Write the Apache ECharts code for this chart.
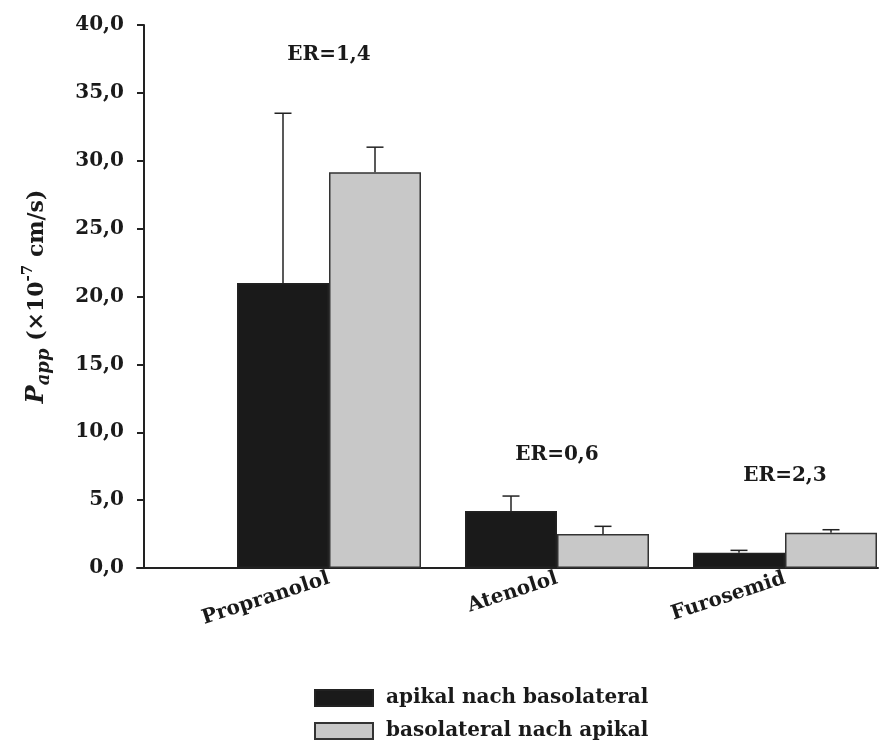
<!DOCTYPE html>
<html><head><meta charset="utf-8">
<script src="https://cdn.jsdelivr.net/npm/echarts@6/dist/echarts.min.js"></script>
<style>html,body{margin:0;padding:0;background:#fff}#c{width:887px;height:743px}</style>
</head><body><div id="c"></div>
<script>
const categories = ['Propranolol', 'Atenolol', 'Furosemid'];
const seriesNames = ['apikal nach basolateral', 'basolateral nach apikal'];
const apBl = [21.0, 4.2, 1.13];
const apBlErr = [33.5, 5.3, 1.3];
const blAp = [29.15, 2.5, 2.6];
const blApErr = [31.0, 3.07, 2.82];
const erLabels = ['ER=1,4', 'ER=0,6', 'ER=2,3'];
const erY = [37.8, 8.35, 6.8];
const yTicks = [0, 5, 10, 15, 20, 25, 30, 35, 40];

const FONT = 'DejaVu Serif';
const TXT = '#1a1a1a';
const chart = echarts.init(document.getElementById('c'));

function errSeries(name, vals, tops, dir) {
  return {
    type: 'custom', xAxisIndex: 1, yAxisIndex: 1, silent: true, z: 1,
    data: vals.map((v, i) => [i, v, tops[i]]),
    renderItem: function (params, api) {
      const base = api.coord([api.value(0), api.value(1)]);
      const top = api.coord([api.value(0), api.value(2)]);
      const bw = api.size([1, 0])[0] * 184 / 228 / 2;
      const x = base[0] + dir * bw / 2;
      const cap = 8.5;
      const st = { stroke: '#222', lineWidth: 1.5 };
      return { type: 'group', children: [
        { type: 'line', shape: { x1: x, y1: base[1], x2: x, y2: top[1] }, style: st },
        { type: 'line', shape: { x1: x - cap, y1: top[1], x2: x + cap, y2: top[1] }, style: st }
      ]};
    }
  };
}

const legendText = { fontFamily: FONT, fontWeight: 'bold', fontSize: 20, color: TXT, padding: [0, 0, 0, 8] };

chart.setOption({
  animation: false,
  backgroundColor: '#fff',
  textStyle: { fontFamily: FONT, color: TXT, fontWeight: 'bold' },
  grid: [
    { left: 137, right: 9, top: 25, bottom: 175, outerBoundsMode: 'none' },
    { left: 215, width: 684, top: 25, bottom: 175, outerBoundsMode: 'none' }
  ],
  xAxis: [
    { gridIndex: 0, type: 'value', min: 0, max: 1, axisLine: { show: true, lineStyle: { color: '#222', width: 2 } },
      axisTick: { show: false }, axisLabel: { show: false }, splitLine: { show: false } },
    { gridIndex: 1, type: 'category', data: categories, axisLine: { show: false }, axisTick: { show: false },
      axisLabel: { rotate: 18, margin: 10, fontFamily: FONT, fontWeight: 'bold', fontSize: 20, color: TXT } }
  ],
  yAxis: [
    { gridIndex: 0, type: 'value', min: 0, max: 40, interval: 5, offset: -7,
      axisLine: { show: true, onZero: false, lineStyle: { color: '#222', width: 2 } },
      axisTick: { show: true, inside: false, length: 7, lineStyle: { color: '#222', width: 2 } },
      splitLine: { show: false },
      axisLabel: { margin: 20, fontFamily: FONT, fontWeight: 'bold', fontSize: 20, color: TXT,
        formatter: v => v.toFixed(1).replace('.', ',') },
      name: '{i|P}{sub|app}{n| (×10}{sup|-7}{n| cm/s)}',
      nameLocation: 'middle', nameGap: 91,
      nameTextStyle: { rich: {
        i: { fontFamily: FONT, fontStyle: 'italic', fontWeight: 'bold', fontSize: 24, color: TXT, lineHeight: 32 },
        sub: { fontFamily: FONT, fontStyle: 'italic', fontWeight: 'bold', fontSize: 18, color: TXT, verticalAlign: 'bottom', lineHeight: 32 },
        n: { fontFamily: FONT, fontWeight: 'bold', fontSize: 22, color: TXT, lineHeight: 32 },
        sup: { fontFamily: FONT, fontWeight: 'bold', fontSize: 15, color: TXT, verticalAlign: 'top', lineHeight: 32 }
      } }
    },
    { gridIndex: 1, type: 'value', min: 0, max: 40, show: false }
  ],
  legend: [
    { left: 314, top: 688, padding: 0, itemWidth: 58, itemHeight: 16, icon: 'rect', data: [seriesNames[0]], textStyle: legendText },
    { left: 314, top: 721, padding: 0, itemWidth: 58, itemHeight: 16, icon: 'rect', data: [seriesNames[1]], textStyle: legendText }
  ],
  series: [
    { name: seriesNames[0], type: 'bar', xAxisIndex: 1, yAxisIndex: 1, data: apBl, barWidth: '40.35%', barGap: '0%', z: 2,
      itemStyle: { color: '#1a1a1a', borderColor: '#222', borderWidth: 1.5 } },
    { name: seriesNames[1], type: 'bar', xAxisIndex: 1, yAxisIndex: 1, data: blAp, barWidth: '40.35%', barGap: '0%', z: 2,
      itemStyle: { color: '#c8c8c8', borderColor: '#333', borderWidth: 1.5 } },
    errSeries('e1', apBl, apBlErr, -1),
    errSeries('e2', blAp, blApErr, 1),
    { type: 'scatter', xAxisIndex: 1, yAxisIndex: 1, symbolSize: 0, silent: true,
      itemStyle: { opacity: 1 },
      data: erY.map((y, i) => [i, y]),
      label: { show: true, position: 'inside', fontFamily: FONT, fontWeight: 'bold', fontSize: 20, color: TXT,
        formatter: p => erLabels[p.dataIndex] } }
  ]
});
</script></body></html>
